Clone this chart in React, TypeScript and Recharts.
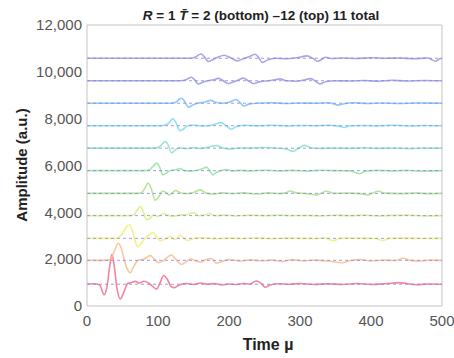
import React from 'react';
import { LineChart, Line, XAxis, YAxis, ReferenceLine } from 'recharts';

// time (µs) and amplitude (a.u.) pairs, bottom (T=2) to top (T=12)
const traceT2 = [
  [0, 940], [10, 950], [18, 900], [24, 480], [28, 800], [32, 1700], [35, 2200], [38, 1800],
  [42, 800], [47, 300], [52, 600], [57, 950], [62, 1000], [68, 1050], [74, 980], [80, 1060],
  [86, 1000], [92, 850], [98, 720], [103, 1000], [108, 1300], [113, 1150], [118, 850], [123, 780],
  [130, 900], [140, 960], [150, 920], [160, 980], [170, 930], [180, 960], [190, 900], [200, 940],
  [210, 920], [220, 960], [230, 940], [238, 1070], [245, 980], [251, 800], [258, 900], [270, 950],
  [285, 930], [300, 960], [320, 920], [340, 950], [360, 920], [380, 960], [400, 920], [420, 950],
  [440, 1000], [450, 960], [465, 910], [480, 940], [500, 930],
];
const traceT3 = [
  [0, 1950], [25, 1950], [32, 1980], [38, 2300], [44, 2680], [48, 2500], [53, 1900], [58, 1500],
  [61, 1420], [66, 1700], [72, 1950], [80, 2000], [89, 2150], [95, 2000], [101, 1850], [108, 1950],
  [114, 2100], [119, 2180], [125, 2000], [133, 1780], [140, 1900], [146, 2020], [153, 1920],
  [160, 1880], [167, 1980], [175, 2030], [182, 1830], [190, 1900], [200, 1980], [215, 1920],
  [230, 1970], [245, 1930], [260, 1960], [275, 1900], [290, 1980], [305, 1930], [320, 1960],
  [340, 1920], [359, 1850], [370, 1930], [385, 1980], [400, 1920], [420, 1960], [435, 1940],
  [445, 2040], [455, 1950], [470, 1920], [485, 1960], [500, 1950],
];
const traceT4 = [
  [0, 2890], [40, 2890], [46, 2950], [51, 3150], [56, 3400], [60, 3470], [64, 3200], [68, 2750],
  [71, 2530], [76, 2650], [82, 2900], [88, 3050], [93, 3140], [98, 2950], [103, 2790], [109, 2850],
  [113, 2900], [117, 2970], [123, 2840], [127, 2900], [131, 3020], [136, 2900], [141, 2800],
  [150, 2880], [165, 2920], [180, 2870], [200, 2900], [220, 2880], [240, 2910], [260, 2870],
  [280, 2900], [300, 2890], [320, 2880], [335, 2900], [347, 2780], [355, 2880], [370, 2900],
  [390, 2890], [405, 2880], [417, 2800], [425, 2880], [445, 2900], [470, 2880], [500, 2890],
];
const traceT5 = [
  [0, 3860], [60, 3860], [66, 3900], [71, 4100], [75, 4260], [79, 4050], [84, 3680], [89, 3750],
  [94, 3900], [100, 3820], [107, 3950], [113, 3900], [120, 3820], [130, 3880], [140, 3900],
  [150, 3990], [158, 3860], [165, 3880], [172, 3950], [180, 3860], [195, 3880], [210, 3850],
  [230, 3880], [250, 3860], [270, 3880], [290, 3860], [310, 3870], [330, 3850], [350, 3880],
  [370, 3860], [390, 3880], [410, 3850], [430, 3870], [450, 3880], [475, 3850], [500, 3860],
];
const traceT6 = [
  [0, 4810], [70, 4810], [77, 4850], [82, 5050], [86, 5250], [90, 5050], [96, 4520], [101, 4650],
  [106, 4900], [111, 4850], [116, 4740], [121, 4850], [125, 4930], [131, 4840], [140, 4800],
  [150, 4850], [160, 4960], [168, 4820], [178, 4780], [190, 4830], [205, 4800], [220, 4830],
  [240, 4780], [255, 4830], [270, 4800], [280, 4830], [286, 4910], [295, 4830], [310, 4800],
  [323, 4740], [330, 4820], [337, 4900], [348, 4810], [370, 4820], [385, 4800], [394, 4740],
  [402, 4820], [410, 4900], [420, 4820], [440, 4800], [465, 4820], [480, 4800], [500, 4810],
];
const traceT7 = [
  [0, 5780], [80, 5780], [88, 5820], [94, 6000], [98, 6100], [102, 5950], [107, 5600], [112, 5680],
  [118, 5800], [125, 5820], [131, 5870], [137, 5780], [145, 5760], [155, 5800], [162, 5850],
  [168, 5930], [173, 5780], [177, 5600], [182, 5700], [190, 5800], [196, 5830], [205, 5770],
  [215, 5790], [230, 5770], [250, 5800], [270, 5770], [290, 5790], [310, 5760], [330, 5800],
  [350, 5780], [370, 5770], [384, 5650], [392, 5760], [410, 5790], [430, 5770], [450, 5790],
  [470, 5760], [500, 5780],
];
const traceT8 = [
  [0, 6740], [95, 6740], [102, 6800], [107, 6950], [110, 7020], [114, 6900], [119, 6540],
  [124, 6650], [130, 6760], [140, 6720], [150, 6760], [160, 6730], [170, 6780], [182, 6850],
  [190, 6760], [200, 6700], [215, 6750], [230, 6740], [250, 6770], [270, 6740], [283, 6680],
  [290, 6600], [298, 6740], [306, 6860], [315, 6760], [330, 6730], [350, 6750], [370, 6730],
  [390, 6760], [410, 6730], [430, 6750], [455, 6720], [475, 6750], [500, 6740],
];
const traceT9 = [
  [0, 7700], [105, 7700], [113, 7760], [118, 7920], [121, 7990], [125, 7850], [131, 7480],
  [136, 7560], [142, 7700], [150, 7730], [160, 7690], [170, 7700], [180, 7760], [189, 7830],
  [196, 7700], [203, 7550], [210, 7650], [220, 7720], [240, 7700], [260, 7720], [280, 7690],
  [300, 7710], [320, 7700], [340, 7720], [355, 7680], [363, 7620], [370, 7700], [390, 7710],
  [410, 7690], [430, 7720], [455, 7690], [475, 7710], [500, 7700],
];
const traceT10 = [
  [0, 8660], [118, 8660], [125, 8700], [130, 8830], [133, 8870], [137, 8760], [143, 8490],
  [149, 8580], [156, 8660], [165, 8700], [174, 8780], [181, 8700], [190, 8660], [200, 8700],
  [210, 8820], [216, 8680], [221, 8540], [228, 8620], [240, 8660], [260, 8680], [280, 8650],
  [300, 8670], [320, 8660], [340, 8680], [355, 8580], [362, 8640], [375, 8680], [395, 8650],
  [415, 8670], [440, 8650], [465, 8670], [500, 8660],
];
const traceT11 = [
  [0, 9620], [132, 9620], [139, 9660], [144, 9740], [147, 9770], [151, 9680], [157, 9480],
  [163, 9560], [170, 9620], [178, 9660], [185, 9720], [192, 9620], [198, 9500], [205, 9560],
  [213, 9650], [220, 9730], [227, 9620], [234, 9500], [242, 9570], [255, 9620], [265, 9660],
  [272, 9700], [280, 9620], [295, 9600], [305, 9650], [315, 9710], [322, 9600], [328, 9480],
  [336, 9580], [350, 9620], [370, 9610], [390, 9630], [410, 9600], [430, 9640], [450, 9610],
  [475, 9630], [500, 9620],
];
const traceT12 = [
  [0, 10580], [145, 10580], [152, 10620], [157, 10720], [161, 10760], [165, 10650], [171, 10440],
  [177, 10520], [184, 10620], [193, 10710], [202, 10600], [212, 10470], [220, 10560], [228, 10640],
  [237, 10750], [242, 10600], [247, 10400], [254, 10500], [265, 10580], [280, 10560], [295, 10600],
  [310, 10680], [318, 10580], [325, 10450], [331, 10540], [336, 10620], [345, 10570], [360, 10590],
  [380, 10570], [400, 10600], [420, 10580], [440, 10590], [460, 10560], [480, 10590], [491, 10450],
  [497, 10560], [500, 10580],
];

const traces = [traceT2, traceT3, traceT4, traceT5, traceT6, traceT7, traceT8, traceT9, traceT10, traceT11, traceT12];
const baselines = [930, 1950, 2890, 3860, 4810, 5780, 6740, 7700, 8660, 9620, 10580];
const colors = [
  '#f2708c', '#f9bc8c', '#f0f070', '#d4f07c', '#a8e282', '#98e29c',
  '#8ae2c4', '#7edcf2', '#7cbef4', '#9898e6', '#a690dc',
];

const xTicks = [0, 100, 200, 300, 400, 500];
const yTicks = [0, 2000, 4000, 6000, 8000, 10000, 12000];

const font = '"Liberation Sans", Arial, sans-serif';

export default function App() {
  const series = traces.map((tr) => tr.map(([t, v]) => ({ t, v })));
  const flat = baselines.map((b) => [{ t: 0, v: b }, { t: 500, v: b }]);

  return (
    <div style={{ position: 'absolute', left: 0, top: 0, width: 454, height: 358, background: '#fff', fontFamily: font }}>
      <LineChart width={454} height={358} data={series[0]} margin={{ top: 25, right: 12, bottom: 22, left: 7 }}>
        <XAxis
          dataKey="t"
          type="number"
          domain={[0, 500]}
          ticks={xTicks}
          allowDataOverflow
          height={30}
          stroke="#c4c4c4"
          tickLine={false}
          tickSize={3}
          tickMargin={6}
          tick={{ fill: '#555', fontSize: 15, fontFamily: font }}
        />
        <YAxis
          type="number"
          domain={[0, 12000]}
          ticks={yTicks}
          width={80}
          stroke="#c4c4c4"
          tickLine={false}
          tickSize={3}
          tickMargin={2}
          tickFormatter={(v: number) => v.toLocaleString('en-US')}
          tick={{ fill: '#555', fontSize: 15, fontFamily: font }}
        />
        <ReferenceLine y={12000} stroke="#c4c4c4" />
        <ReferenceLine x={500} stroke="#c4c4c4" />
        {series.map((d, i) => (
          <Line
            key={'s' + i}
            data={d}
            dataKey="v"
            type="monotone"
            stroke={colors[i]}
            strokeWidth={1.6}
            strokeOpacity={0.85}
            dot={false}
            isAnimationActive={false}
          />
        ))}
        {flat.map((d, i) => (
          <Line
            key={'b' + i}
            data={d}
            dataKey="v"
            type="linear"
            stroke="#8686e4"
            strokeWidth={1}
            strokeOpacity={0.8}
            strokeDasharray="3 3"
            dot={false}
            isAnimationActive={false}
          />
        ))}
      </LineChart>
      <div
        style={{
          position: 'absolute', left: 261, top: 15, transform: 'translate(-50%, -50%)',
          whiteSpace: 'nowrap', fontSize: 13.5, fontWeight: 'bold', color: '#222',
        }}
      >
        <i>R</i> = 1 <i>T&#772;</i> = 2 (bottom) –12 (top) 11 total
      </div>
      <div
        style={{
          position: 'absolute', left: 21, top: 165, transform: 'translate(-50%, -50%) rotate(-90deg)',
          whiteSpace: 'nowrap', fontSize: 15, fontWeight: 'bold', color: '#222',
        }}
      >
        Amplitude (a.u.)
      </div>
      <div style={{ position: 'absolute', left: 268, top: 345, transform: 'translate(-50%, -50%)', whiteSpace: 'nowrap', fontSize: 16, fontWeight: 'bold', color: '#222' }}>
        Time µ
      </div>
    </div>
  );
}
